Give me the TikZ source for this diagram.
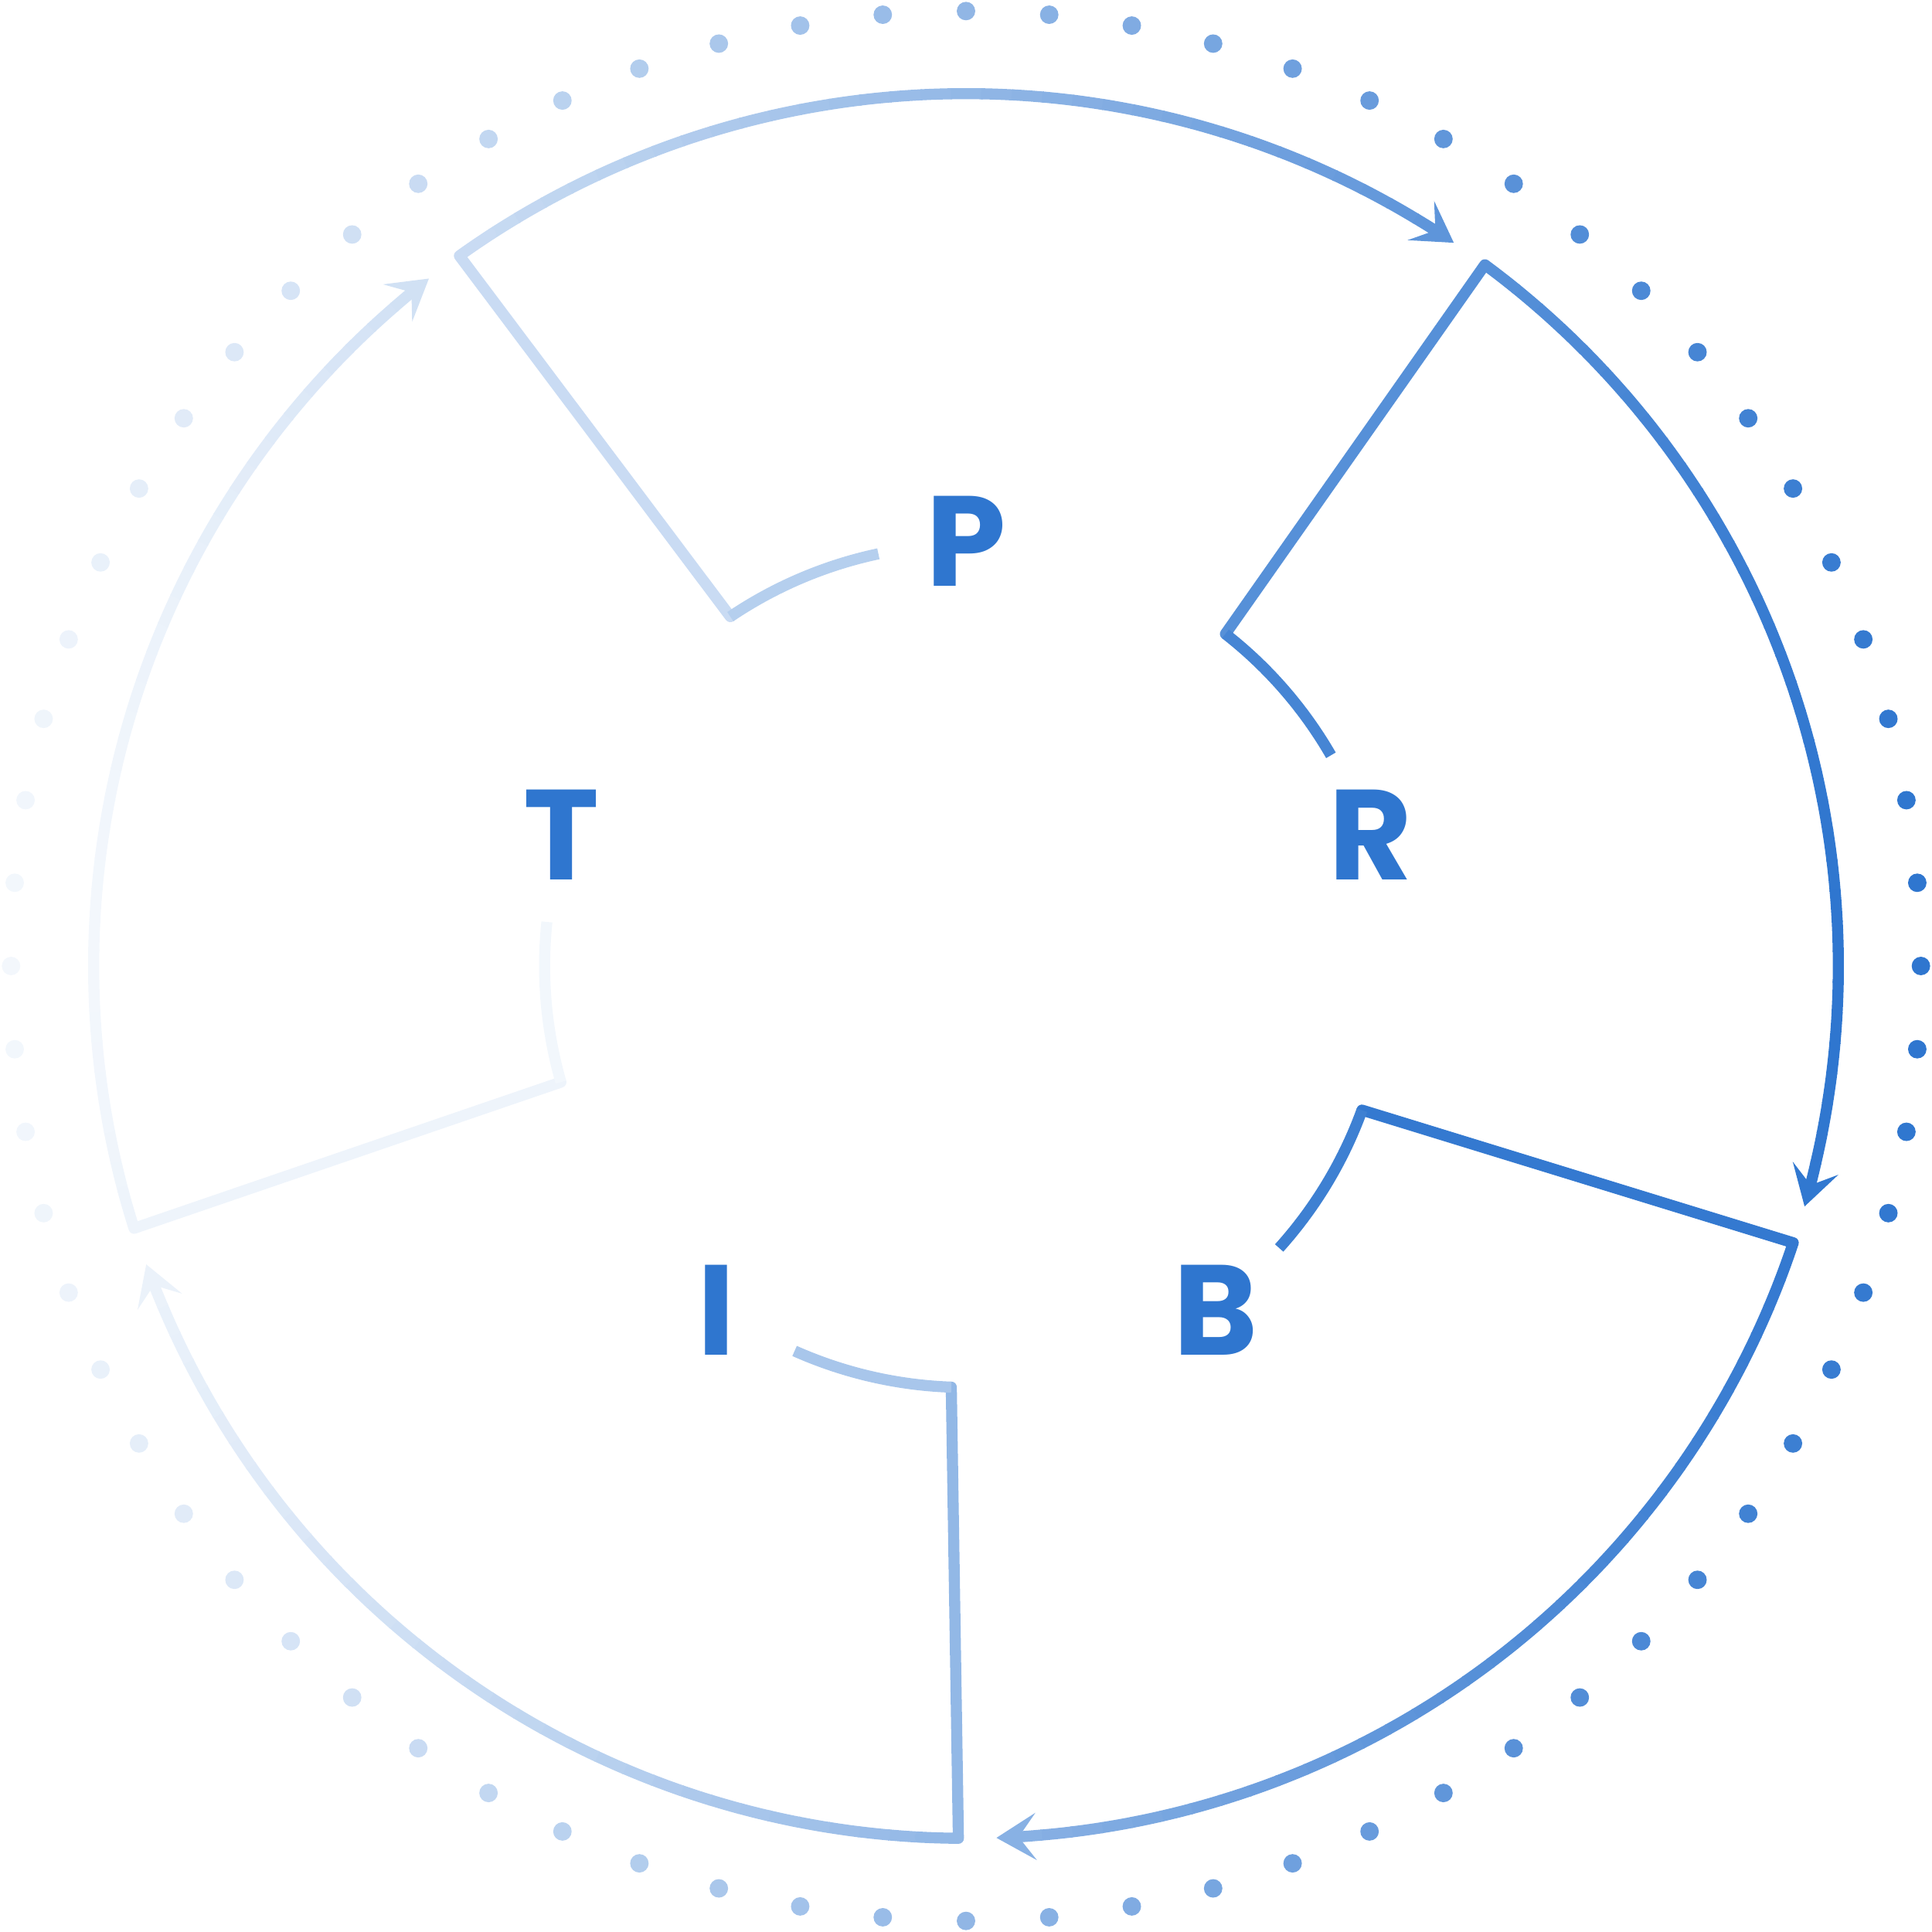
\documentclass[tikz,border=0pt]{standalone}
\usepackage{fontspec}
\setmainfont{Poppins}
\usetikzlibrary{arrows.meta}
\definecolor{base}{HTML}{2F76CF}
\tikzset{letter/.style={text=base,font=\fontsize{52}{52}\selectfont\bfseries,inner sep=0pt},
 seg/.style={line width=4.5pt,line join=round,line cap=round}}
\begin{document}
\begin{tikzpicture}[x=0.5pt,y=0.5pt]
\useasboundingbox (-784,-784) rectangle (784,784);
% dots
\foreach \i in {0,...,71}{
  \pgfmathsetmacro\aa{5*\i}
  \pgfmathsetmacro\p{6+94*(1+cos(\aa))/2}
  \fill[base!\p!white] (\aa:775) circle[radius=7.5];
}
% segments
\foreach \t/\L in {90/P,18/R,-54/B,-126/I,-198/T}{
  \foreach \a in {1,...,32}{
    \pgfmathsetmacro\aa{\t+35-2*\a}
    \pgfmathsetmacro\ab{\aa-2.1}
    \pgfmathsetmacro\p{6+94*(1+cos(\aa))/2}
    \draw[seg,line cap=butt,base!\p!white] (\aa:708) arc[start angle=\aa,end angle=\ab,radius=708];
  }
  \pgfmathsetmacro\ae{\t-31}
  \pgfmathsetmacro\p{6+94*(1+cos(\ae))/2}
  \draw[seg,line cap=butt,base!\p!white,-{Stealth[length=16pt,width=19pt,inset=7pt]}] (\ae:708) arc[start angle=\ae,end angle=\t-34,radius=708];
  \pgfmathsetmacro\p{6+94*(1+cos(\t+35))/2}
  \pgfmathsetmacro\q{6+94*(1+cos(\t+22))/2}
  \draw[seg,base!\p!white] (\t+33:708) arc[start angle=\t+33,end angle=\t+35.5,radius=708] -- (\t+34:342);
  \draw[seg,line cap=butt,base!\q!white] (\t+34:342) arc[start angle=\t+34,end angle=\t+12,radius=342];
  \node[letter] (L\L) at (\t:345) {\L};
}
\end{tikzpicture}
\end{document}
